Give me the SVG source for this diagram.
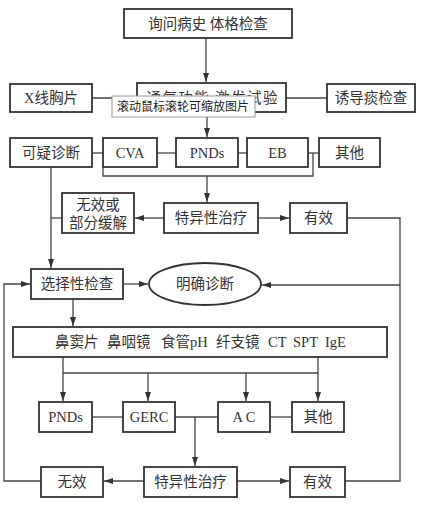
<svg xmlns="http://www.w3.org/2000/svg" width="421" height="505" viewBox="0 0 421 505">
<style>
.box{fill:#fff;stroke:#333;stroke-width:1.8}
.t{font-family:"Liberation Serif","Noto Sans CJK SC",serif;font-size:14.5px;fill:#333;text-anchor:middle}
.s{text-anchor:start}
.ln{fill:none;stroke:#444;stroke-width:1.3}
.tip{fill:#fff;stroke:#999;stroke-width:1}
.tt{font-family:"Noto Sans CJK SC","Liberation Sans",sans-serif;font-size:12px;fill:#222}
</style>
<defs>
<marker id="ah" markerUnits="userSpaceOnUse" markerWidth="9" markerHeight="6" refX="9" refY="3" orient="auto">
<path d="M0,0 L9,3 L0,6 z" fill="#333"/>
</marker>
</defs>
<rect width="421" height="505" fill="#fff"/>
<g id="connectors">
<path class="ln" d="M206,38 V82" marker-end="url(#ah)"/>
<path class="ln" d="M92,98 H137"/>
<path class="ln" d="M286,98 H327"/>
<path class="ln" d="M207,112 V137" marker-end="url(#ah)"/>
<path class="ln" d="M92,153 H103"/>
<path class="ln" d="M157,153 H176"/>
<path class="ln" d="M238,153 H247"/>
<path class="ln" d="M308,153 H319"/>
<path class="ln" d="M103,167 V176 H313 V153"/>
<path class="ln" d="M207,176 V202" marker-end="url(#ah)"/>
<path class="ln" d="M51,167 V268" marker-end="url(#ah)"/>
<path class="ln" d="M51,218 H62"/>
<path class="ln" d="M164,218 H135" marker-end="url(#ah)"/>
<path class="ln" d="M258,218 H289" marker-end="url(#ah)"/>
<path class="ln" d="M347,218 H400 V481 H345"/>
<path class="ln" d="M400,285 H262" marker-end="url(#ah)"/>
<path class="ln" d="M123,284 H148" marker-end="url(#ah)"/>
<path class="ln" d="M73,299 V326" marker-end="url(#ah)"/>
<path class="ln" d="M63,357 V401" marker-end="url(#ah)"/>
<path class="ln" d="M318,357 V401" marker-end="url(#ah)"/>
<path class="ln" d="M63,373 H318"/>
<path class="ln" d="M148,373 V401" marker-end="url(#ah)"/>
<path class="ln" d="M246,373 V401" marker-end="url(#ah)"/>
<path class="ln" d="M92,417 H123"/>
<path class="ln" d="M175,417 H218"/>
<path class="ln" d="M270,417 H292"/>
<path class="ln" d="M195,417 V466" marker-end="url(#ah)"/>
<path class="ln" d="M144,481 H104" marker-end="url(#ah)"/>
<path class="ln" d="M237,481 H289" marker-end="url(#ah)"/>
<path class="ln" d="M41,481 H4 V284 H30" marker-end="url(#ah)"/>
</g>
<g id="n-history"><rect class="box" x="124" y="9" width="168" height="29"/><text class="t" x="208" y="29">询问病史 体格检查</text></g>
<g id="n-xray"><rect class="box" x="10" y="84" width="82" height="28"/><text class="t" x="51" y="103">X线胸片</text></g>
<g id="n-lung"><rect class="box" x="137" y="83" width="149" height="29"/><text class="t" x="212" y="103" textLength="131" lengthAdjust="spacing">通气功能  激发试验</text></g>
<g id="n-sputum"><rect class="box" x="327" y="84" width="88" height="28"/><text class="t" x="371" y="103">诱导痰检查</text></g>
<g id="n-suspect"><rect class="box" x="10" y="138" width="82" height="29"/><text class="t" x="51" y="158">可疑诊断</text></g>
<g id="n-cva"><rect class="box" x="103" y="138" width="54" height="29"/><text class="t" x="130" y="158">CVA</text></g>
<g id="n-pnds1"><rect class="box" x="176" y="138" width="62" height="29"/><text class="t" x="207" y="158">PNDs</text></g>
<g id="n-eb"><rect class="box" x="247" y="138" width="61" height="29"/><text class="t" x="277.5" y="158">EB</text></g>
<g id="n-other1"><rect class="box" x="319" y="138" width="61" height="29"/><text class="t" x="349.5" y="158">其他</text></g>
<g id="n-partial"><rect class="box" x="62" y="193" width="72" height="40"/><text class="t" x="98" y="210">无效或</text><text class="t" x="98" y="228">部分缓解</text></g>
<g id="n-treat1"><rect class="box" x="164" y="203" width="94" height="30"/><text class="t" x="211" y="223">特异性治疗</text></g>
<g id="n-eff1"><rect class="box" x="290" y="203" width="57" height="30"/><text class="t" x="318.5" y="223">有效</text></g>
<g id="n-select"><rect class="box" x="31" y="269" width="92" height="30"/><text class="t" x="77" y="289">选择性检查</text></g>
<g id="n-diag"><ellipse class="box" cx="205" cy="284" rx="56" ry="21"/><text class="t" x="205" y="289">明确诊断</text></g>
<g id="n-exams"><rect class="box" x="13" y="327" width="374" height="30"/>
<text class="t s" y="347"><tspan x="55">鼻窦片</tspan><tspan x="107">鼻咽镜</tspan><tspan x="161">食管pH</tspan><tspan x="216">纤支镜</tspan><tspan x="268">CT</tspan><tspan x="293">SPT</tspan><tspan x="325">IgE</tspan></text></g>
<g id="n-pnds2"><rect class="box" x="39" y="402" width="53" height="30"/><text class="t" x="65.5" y="422">PNDs</text></g>
<g id="n-gerc"><rect class="box" x="123" y="402" width="52" height="30"/><text class="t" x="149" y="422">GERC</text></g>
<g id="n-ac"><rect class="box" x="218" y="402" width="52" height="30"/><text class="t" x="244" y="422">A C</text></g>
<g id="n-other2"><rect class="box" x="292" y="402" width="52" height="30"/><text class="t" x="318" y="422">其他</text></g>
<g id="n-invalid"><rect class="box" x="41" y="467" width="62" height="30"/><text class="t" x="72" y="487">无效</text></g>
<g id="n-treat2"><rect class="box" x="144" y="467" width="93" height="30"/><text class="t" x="190.5" y="487">特异性治疗</text></g>
<g id="n-eff2"><rect class="box" x="290" y="467" width="55" height="30"/><text class="t" x="317.5" y="487">有效</text></g>
<g id="tooltip"><rect class="tip" x="112" y="96" width="143" height="21"/><text class="tt" x="117" y="111">滚动鼠标滚轮可缩放图片</text></g>
</svg>
